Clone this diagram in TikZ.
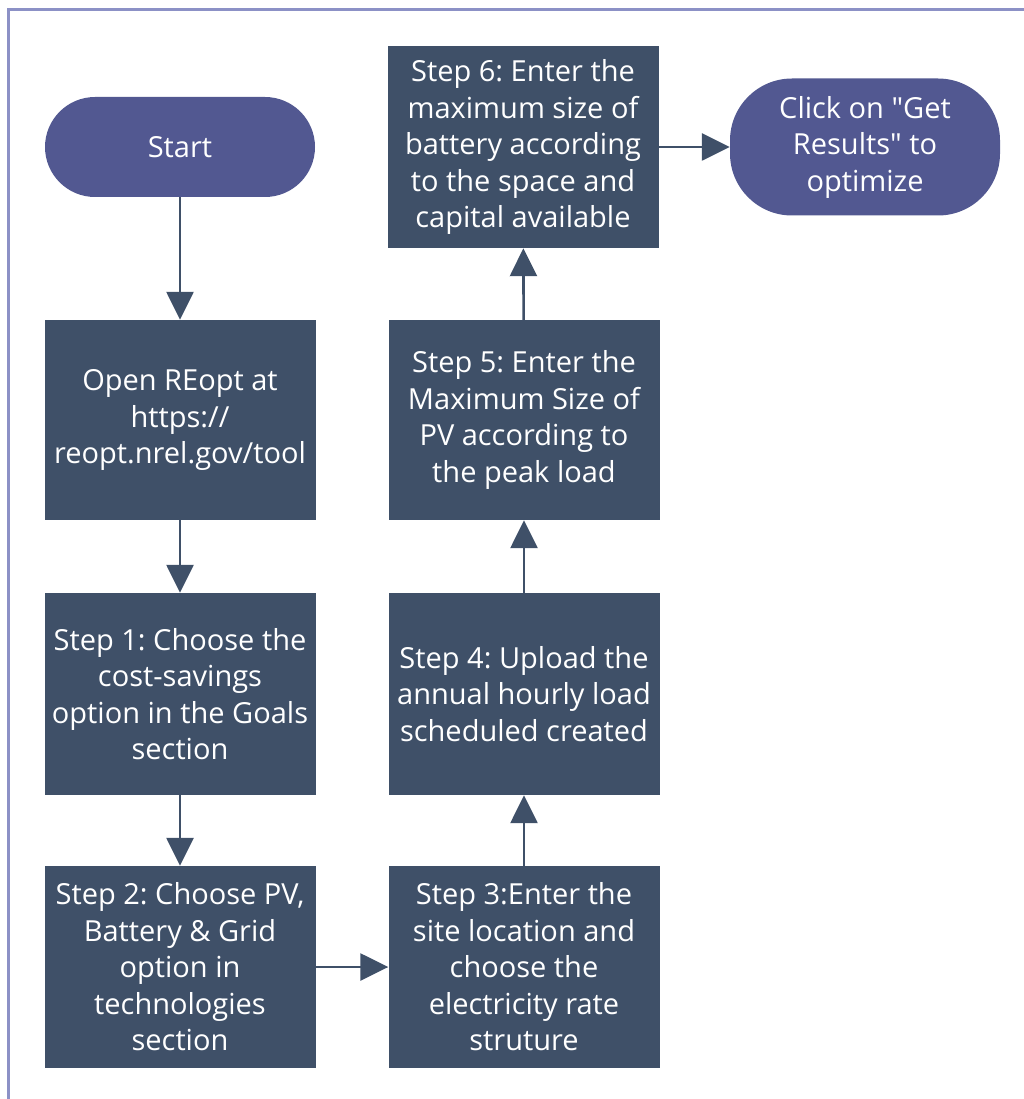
\documentclass[tikz,border=0pt]{standalone}
\usepackage{fontspec}
\setmainfont{Open Sans}[Ligatures=TeXOff]
\usetikzlibrary{arrows.meta}
\definecolor{boxc}{HTML}{3F5068}
\definecolor{ovalc}{HTML}{525891}
\definecolor{framec}{HTML}{8C91C6}
\frenchspacing
\begin{document}
\begin{tikzpicture}[x=1pt,y=-1pt,
  stepbox/.style={draw=none,fill=boxc,text=white,minimum width=271pt,minimum height=202pt,align=center,inner sep=0pt,font=\fontsize{29}{36.5}\selectfont},
  ovalbox/.style={draw=none,fill=ovalc,text=white,minimum width=270pt,align=center,inner sep=0pt,font=\fontsize{29}{36.5}\selectfont},
  conn/.style={draw=boxc,line width=2.6pt,-{Triangle[width=27pt,length=28pt]}}]
\useasboundingbox (0,0) rectangle (1023,1099);
\draw[framec,line width=3pt] (8,1105) -- (8,10) -- (1030,10);
\node[ovalbox,minimum height=100pt,rounded corners=50pt] (start) at (180,147) {Start};
\node[stepbox,minimum height=200pt] (open) at (180,420) {Open REopt at\\https://\\reopt.nrel.gov/tool};
\node[stepbox] (s1) at (180,694) {Step 1: Choose the\\cost-savings\\option in the Goals\\section};
\node[stepbox] (s2) at (180,967) {Step 2: Choose PV,\\Battery \& Grid\\option in\\technologies\\section};
\node[stepbox] (s3) at (524,967) {Step 3:Enter the\\site location and\\choose the\\electricity rate\\struture};
\node[stepbox] (s4) at (524,694) {Step 4: Upload the\\annual hourly load\\scheduled created};
\node[stepbox,minimum height=200pt] (s5) at (524,420) {Step 5: Enter the\\Maximum Size of\\PV according to\\the peak load};
\node[stepbox] (s6) at (523,147) {Step 6: Enter the\\maximum size of\\battery according\\to the space and\\capital available};
\node[ovalbox,minimum height=137pt,rounded corners=62pt] (end) at (865,147) {Click on "Get\\Results" to\\optimize};
\draw[conn] (start) -- (open);
\draw[conn] (open) -- (s1);
\draw[conn] (s1) -- (s2);
\draw[conn] (s2) -- (s3);
\draw[conn] (s3) -- (s4);
\draw[conn] (s4) -- (s5);
\draw[conn] (s5) -- (s6);
\draw[conn] (s6) -- (end);
\end{tikzpicture}
\end{document}
